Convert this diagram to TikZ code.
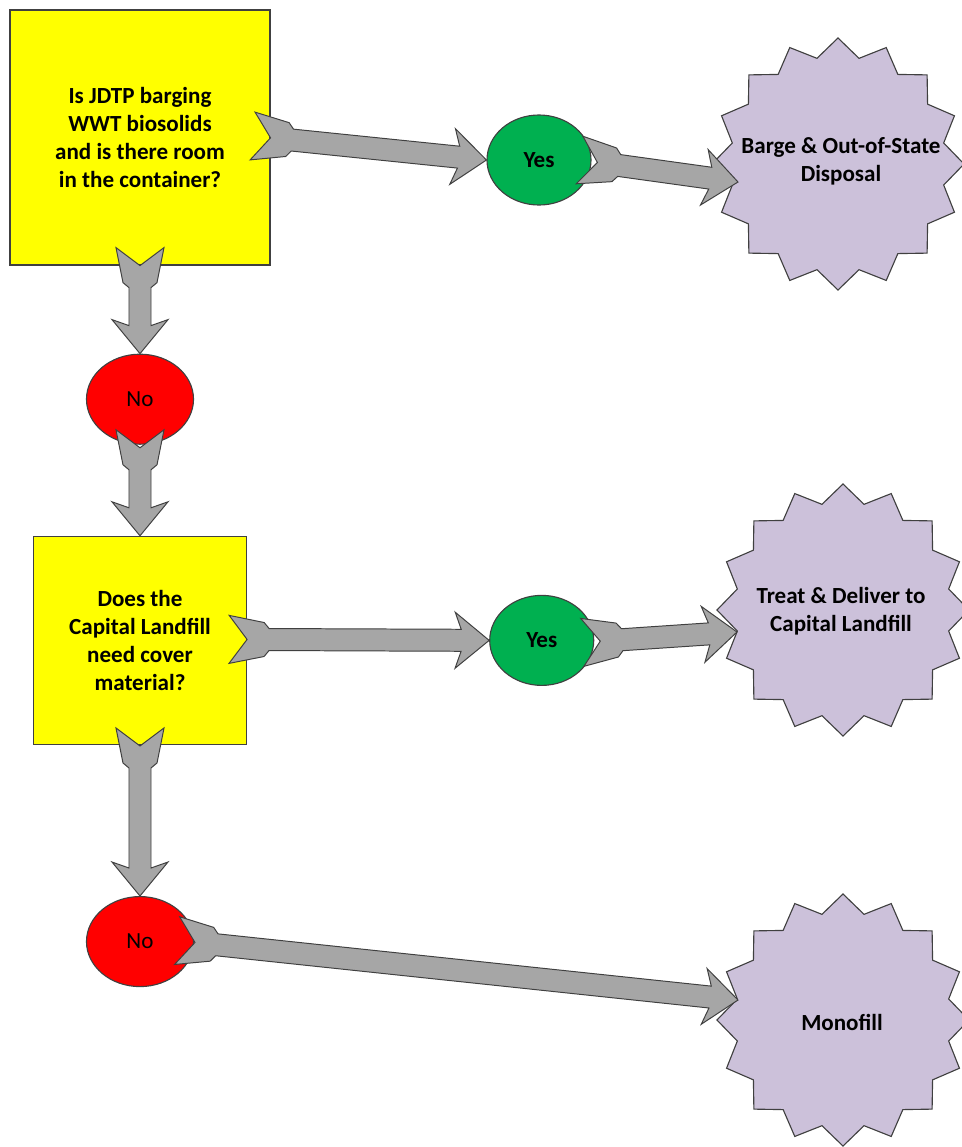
\documentclass[tikz,border=0pt]{standalone}
\usepackage{fontspec}
\setmainfont{Carlito}
\usetikzlibrary{shapes.geometric,positioning,calc}

\definecolor{boxyellow}{HTML}{FFFF00}
\definecolor{yesgreen}{HTML}{00B050}
\definecolor{nored}{HTML}{FF0000}
\definecolor{starlilac}{HTML}{CCC1DA}
\definecolor{arrowgray}{HTML}{A6A6A6}
\definecolor{edgegray}{HTML}{404040}

\newcommand\txt{\fontsize{16.4}{19.9}\selectfont}

\tikzset{
	question/.style={draw=edgegray, fill=boxyellow, line width=0.8pt, align=center, font=\txt\bfseries},
	yesball/.style={ellipse, draw=edgegray, fill=yesgreen, line width=0.8pt, minimum width=2.6cm, minimum height=2.25cm, inner sep=0pt, font=\txt\bfseries},
	noball/.style={ellipse, draw=edgegray, fill=nored, line width=0.8pt, minimum width=2.675cm, minimum height=2.25cm, inner sep=0pt, font=\txt},
	outcome/.style={star, star points=16, star point ratio=1.17, draw=edgegray, fill=starlilac, line width=0.8pt, minimum size=6.3cm, inner sep=0pt},
	outtext/.style={align=center, font=\txt\bfseries},
	fatarrow/.style={draw=edgegray, fill=arrowgray, line width=0.7pt, line join=miter},
}

\newcommand\fatarrow[2]{%
	\draw[fatarrow]
		($(#1)!0.6cm!90:(#2)$)
		-- ($(#1)!0.875cm!(#2)!0.425cm!90:(#2)$)
		-- ($(#1)!1cm!(#2)!0.275cm!90:(#2)$)
		-- ($(#2)!0.7cm!(#1)!0.275cm!-90:(#1)$)
		-- ($(#2)!0.85cm!(#1)!0.7cm!-90:(#1)$)
		-- (#2)
		-- ($(#2)!0.85cm!(#1)!0.7cm!90:(#1)$)
		-- ($(#2)!0.7cm!(#1)!0.275cm!90:(#1)$)
		-- ($(#1)!1cm!(#2)!0.275cm!-90:(#2)$)
		-- ($(#1)!0.875cm!(#2)!0.425cm!-90:(#2)$)
		-- ($(#1)!0.6cm!-90:(#2)$)
		-- ($(#1)!0.45cm!(#2)$)
		-- cycle;}

\begin{document}
\begin{tikzpicture}[x=0.025cm, y=-0.025cm]
	\useasboundingbox (0,0) rectangle (962,1147);

	\node[question, minimum width=6.5cm, minimum height=6.375cm] (a) at (140,137.5) {Is JDTP barging\\WWT biosolids\\and is there room\\in the container?};
	\node[noball, below=2.2cm of a] (b) {No};
	\node[question, minimum width=5.325cm, minimum height=5.2cm, below=2.275cm of b] (c) {Does the\\Capital Landfill\\need cover\\material?};
	\node[noball, below=3.775cm of c] (d) {No};
	\node[yesball] (e) at (539,160) {Yes};
	\node[yesball, right=6.05cm of c] (f) {Yes};

	\node[outcome] (g) at (838,164) {};
	\node[outcome] (h) at (843,610) {};
	\node[outcome] (i) at (843,1020) {};
	\node[outtext] (gt) at (841,161) {Barge \& Out-of-State\\Disposal};
	\node[outtext] (ht) at (841,611) {Treat \& Deliver to\\Capital Landfill};
	\node[outtext] (it) at (842,1022) {Monofill};

	\coordinate (a1) at ($(a.east)+(-18,-1.5)$);
	\coordinate (a2) at ($(a.south)+(0,-18)$);
	\coordinate (b1) at ($(b.south)+(0,-15)$);
	\coordinate (c1) at ($(c.east)+(-18,-1)$);
	\coordinate (c2) at ($(c.south)+(0,-17)$);
	\coordinate (d1) at ($(d.east)+(-17,-1)$);
	\coordinate (e1) at ($(e.east)+(-12,0)$);
	\coordinate (f1) at ($(f.east)+(-12,2)$);
	\coordinate (g1) at ($(g)+(-100,18)$);
	\coordinate (h1) at ($(h)+(-106,22)$);
	\coordinate (i1) at ($(i)+(-105,-20)$);

	\fatarrow{a1}{e.west}
	\fatarrow{e1}{g1}
	\fatarrow{a2}{b.north}
	\fatarrow{b1}{c.north}
	\fatarrow{c1}{f.west}
	\fatarrow{f1}{h1}
	\fatarrow{c2}{d.north}
	\fatarrow{d1}{i1}
\end{tikzpicture}
\end{document}
